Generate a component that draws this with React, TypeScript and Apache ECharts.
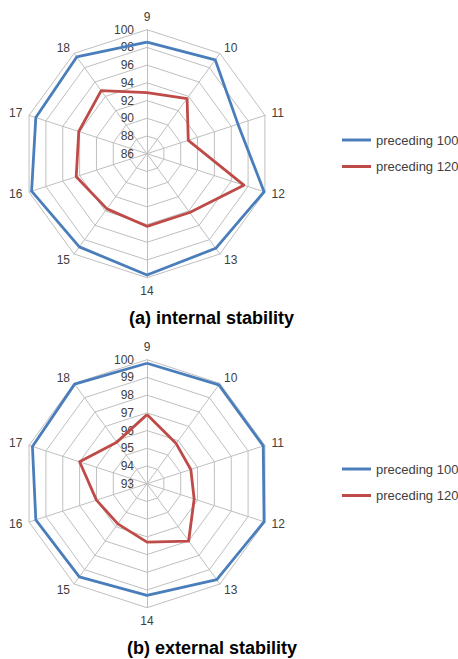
import React, { useEffect, useRef } from "react";
import * as echarts from "echarts";

const categories = ["9", "10", "11", "12", "13", "14", "15", "16", "17", "18"];
const seriesNames = ["preceding 100", "preceding 120"];

const internal100 = [98.6, 99.1, 96.8, 99.9, 99.2, 99.7, 99.0, 99.7, 99.2, 99.5];
const internal120 = [92.9, 93.7, 90.9, 97.5, 94.2, 94.2, 93.7, 94.4, 94.1, 94.8];
const external100 = [99.8, 99.9, 99.9, 99.95, 99.7, 99.3, 99.5, 99.6, 99.8, 99.95];
const external120 = [96.9, 95.8, 95.6, 95.8, 97.0, 96.3, 95.8, 96.0, 97.0, 95.9];

const internalMin = 86;
const internalMax = 100;
const externalMin = 93;
const externalMax = 100;

const titles = ["(a) internal stability", "(b) external stability"];

const BLUE = "#4A7EBB";
const RED = "#BE4B48";
const GRID = "#BFBFBF";
const TEXT = "#404040";
const FONT = "Liberation Sans, Arial, sans-serif";

// ECharts lays out radar indicators counter-clockwise; reorder so they run clockwise
const order = [0, ...categories.map((_, i) => i).slice(1).reverse()];
const reorder = (arr: any[]) => order.map((i) => arr[i]);

function makeRadar(center: [number, number], min: number, max: number) {
  return {
    center,
    radius: 124,
    startAngle: 90,
    shape: "polygon",
    splitNumber: 7,
    nameGap: 7,
    axisName: { color: TEXT, fontSize: 12, fontFamily: FONT },
    indicator: reorder(categories).map((c, i) =>
      i === 0
        ? {
            name: c,
            min,
            max,
            axisLabel: {
              show: true,
              color: TEXT,
              fontSize: 12,
              fontFamily: FONT,
              margin: 13,
            },
          }
        : { name: c, min, max }
    ),
    axisLine: { lineStyle: { color: GRID, width: 1 } },
    splitLine: { lineStyle: { color: GRID, width: 1 } },
    splitArea: { show: false },
    axisTick: { show: false },
    axisLabel: { show: false },
  };
}

function makeSeries(radarIndex: number, a: number[], b: number[]) {
  return {
    type: "radar",
    radarIndex,
    symbol: "none",
    silent: true,
    data: [
      {
        name: seriesNames[0],
        value: reorder(a),
        lineStyle: { color: BLUE, width: 2.8 },
        itemStyle: { color: BLUE },
      },
      {
        name: seriesNames[1],
        value: reorder(b),
        lineStyle: { color: RED, width: 2.8 },
        itemStyle: { color: RED },
      },
    ],
  };
}

function makeLegend(top: number) {
  return {
    orient: "vertical",
    left: 342,
    top,
    padding: 0,
    itemGap: 12.5,
    itemWidth: 29,
    itemHeight: 3,
    icon: "rect",
    selectedMode: false,
    data: seriesNames,
    textStyle: { color: TEXT, fontSize: 13, fontFamily: FONT, lineHeight: 14 },
  };
}

export default function App() {
  const ref = useRef<HTMLDivElement>(null);
  useEffect(() => {
    if (!ref.current) return;
    const chart = echarts.init(ref.current, null, { renderer: "svg" });
    chart.setOption({
      animation: false,
      backgroundColor: "#ffffff",
      color: [BLUE, RED],
      title: [
        {
          text: titles[0],
          left: 129,
          top: 309,
          padding: 0,
          textStyle: { fontSize: 18, fontWeight: "bold", color: "#000", fontFamily: FONT },
        },
        {
          text: titles[1],
          left: 127,
          top: 639,
          padding: 0,
          textStyle: { fontSize: 18, fontWeight: "bold", color: "#000", fontFamily: FONT },
        },
      ],
      legend: [makeLegend(133), makeLegend(462)],
      radar: [
        makeRadar([147, 153.7], internalMin, internalMax),
        makeRadar([147, 483.7], externalMin, externalMax),
      ],
      series: [
        makeSeries(0, internal100, internal120),
        makeSeries(1, external100, external120),
      ],
    });
    return () => chart.dispose();
  }, []);
  return (
    <div
      ref={ref}
      style={{ position: "absolute", left: 0, top: 0, width: 458, height: 659 }}
    />
  );
}
